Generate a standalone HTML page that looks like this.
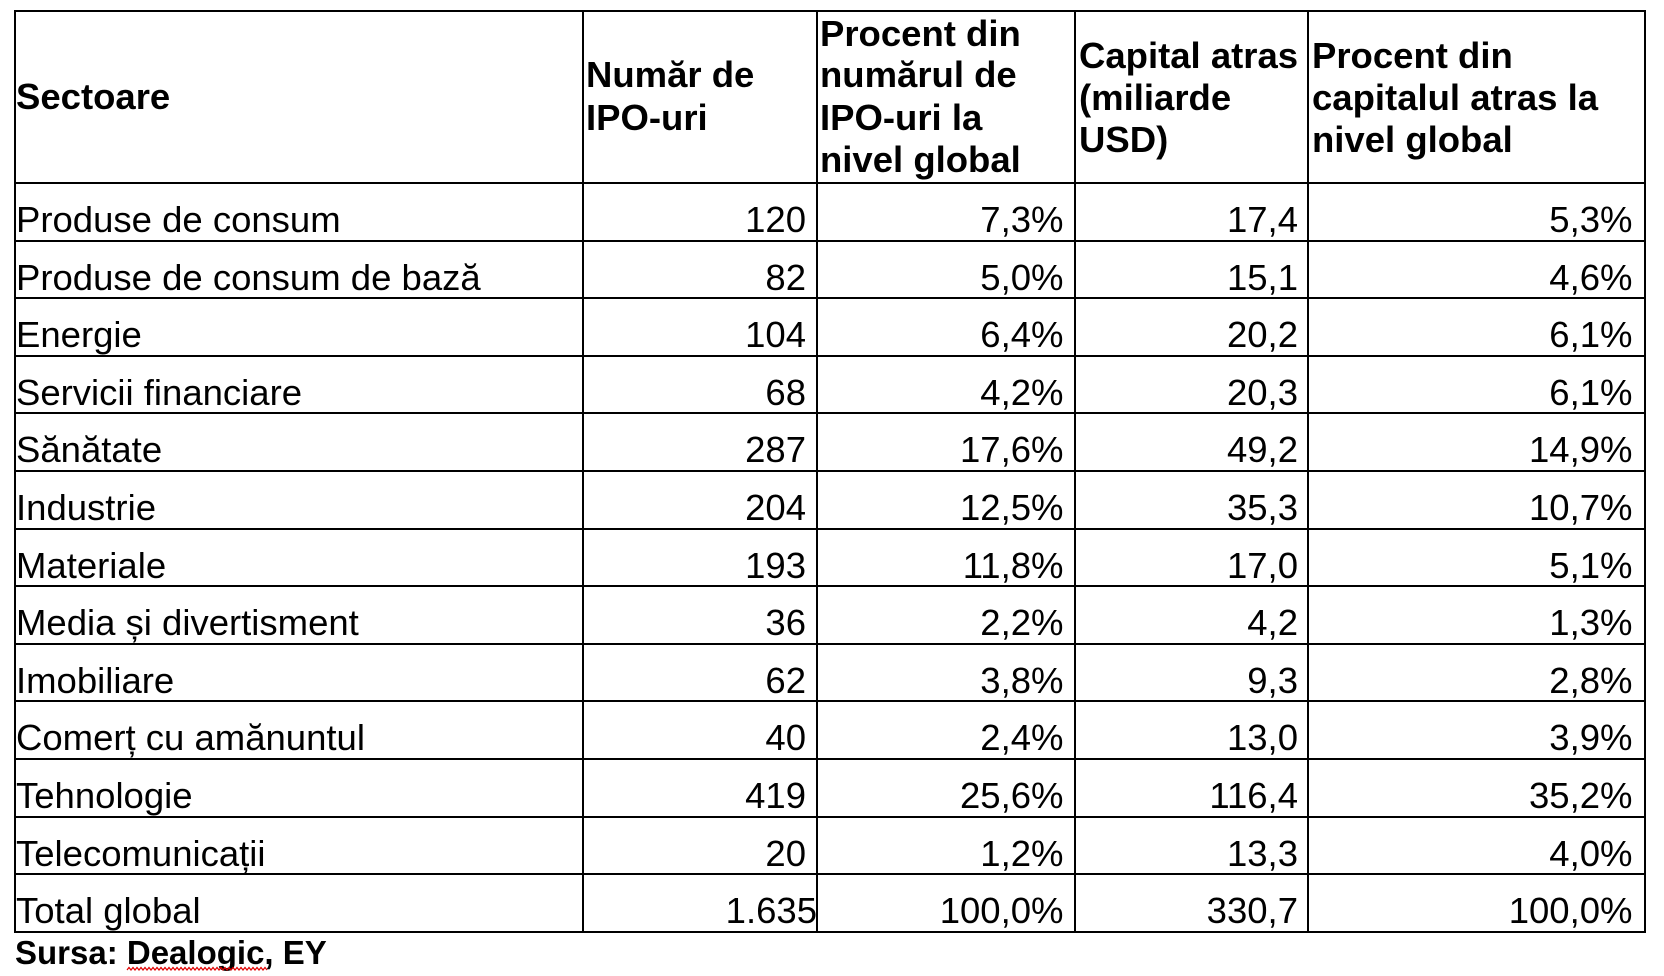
<!DOCTYPE html>
<html>
<head>
<meta charset="utf-8">
<style>
  html,body{margin:0;padding:0;background:#fff;}
  body{width:1664px;height:976px;position:relative;overflow:hidden;
       font-family:"Liberation Sans",Arial,sans-serif;color:#000;}
  .h{position:absolute;left:14px;width:1632px;height:2px;background:#000;}
  .v{position:absolute;top:10px;height:923px;width:2px;background:#000;}
  .t{position:absolute;font-size:36.5px;line-height:40px;height:40px;white-space:nowrap;}
  .b{font-weight:bold;}
  .l{left:16px;}
  .c2{right:858px;text-align:right;}
  .c3{right:600.5px;text-align:right;}
  .c4{right:366px;text-align:right;}
  .c5{right:31.5px;text-align:right;}
</style>
</head>
<body>
<!-- horizontal lines -->
<div class="h" style="top:10px"></div>
<div class="h" style="top:182px"></div>
<div class="h" style="top:240px"></div>
<div class="h" style="top:297px"></div>
<div class="h" style="top:355px"></div>
<div class="h" style="top:412px"></div>
<div class="h" style="top:470px"></div>
<div class="h" style="top:528px"></div>
<div class="h" style="top:585px"></div>
<div class="h" style="top:643px"></div>
<div class="h" style="top:700px"></div>
<div class="h" style="top:758px"></div>
<div class="h" style="top:816px"></div>
<div class="h" style="top:873px"></div>
<div class="h" style="top:931px"></div>
<!-- vertical lines -->
<div class="v" style="left:14px"></div>
<div class="v" style="left:582px"></div>
<div class="v" style="left:816px"></div>
<div class="v" style="left:1074px"></div>
<div class="v" style="left:1307px"></div>
<div class="v" style="left:1644px"></div>

<!-- header -->
<div class="t b" style="left:16px;top:77.4px">Sectoare</div>
<div class="t b" style="left:586px;top:55.4px">Număr de</div>
<div class="t b" style="left:586px;top:97.5px">IPO-uri</div>
<div class="t b" style="left:820px;top:14.2px">Procent din</div>
<div class="t b" style="left:820px;top:55.4px">numărul de</div>
<div class="t b" style="left:820px;top:97.5px">IPO-uri la</div>
<div class="t b" style="left:820px;top:139.9px">nivel global</div>
<div class="t b" style="left:1079px;top:35.9px">Capital atras</div>
<div class="t b" style="left:1079px;top:77.9px">(miliarde</div>
<div class="t b" style="left:1079px;top:119.9px">USD)</div>
<div class="t b" style="left:1312px;top:35.9px">Procent din</div>
<div class="t b" style="left:1312px;top:77.9px">capitalul atras la</div>
<div class="t b" style="left:1312px;top:119.9px">nivel global</div>

<!-- rows -->
<div class="t l" style="top:199.6px">Produse de consum</div>
<div class="t c2" style="top:199.6px">120</div>
<div class="t c3" style="top:199.6px">7,3%</div>
<div class="t c4" style="top:199.6px">17,4</div>
<div class="t c5" style="top:199.6px">5,3%</div>

<div class="t l" style="top:257.6px">Produse de consum de bază</div>
<div class="t c2" style="top:257.6px">82</div>
<div class="t c3" style="top:257.6px">5,0%</div>
<div class="t c4" style="top:257.6px">15,1</div>
<div class="t c5" style="top:257.6px">4,6%</div>

<div class="t l" style="top:314.6px">Energie</div>
<div class="t c2" style="top:314.6px">104</div>
<div class="t c3" style="top:314.6px">6,4%</div>
<div class="t c4" style="top:314.6px">20,2</div>
<div class="t c5" style="top:314.6px">6,1%</div>

<div class="t l" style="top:372.6px">Servicii financiare</div>
<div class="t c2" style="top:372.6px">68</div>
<div class="t c3" style="top:372.6px">4,2%</div>
<div class="t c4" style="top:372.6px">20,3</div>
<div class="t c5" style="top:372.6px">6,1%</div>

<div class="t l" style="top:429.6px">Sănătate</div>
<div class="t c2" style="top:429.6px">287</div>
<div class="t c3" style="top:429.6px">17,6%</div>
<div class="t c4" style="top:429.6px">49,2</div>
<div class="t c5" style="top:429.6px">14,9%</div>

<div class="t l" style="top:487.6px">Industrie</div>
<div class="t c2" style="top:487.6px">204</div>
<div class="t c3" style="top:487.6px">12,5%</div>
<div class="t c4" style="top:487.6px">35,3</div>
<div class="t c5" style="top:487.6px">10,7%</div>

<div class="t l" style="top:545.6px">Materiale</div>
<div class="t c2" style="top:545.6px">193</div>
<div class="t c3" style="top:545.6px">11,8%</div>
<div class="t c4" style="top:545.6px">17,0</div>
<div class="t c5" style="top:545.6px">5,1%</div>

<div class="t l" style="top:602.6px">Media și divertisment</div>
<div class="t c2" style="top:602.6px">36</div>
<div class="t c3" style="top:602.6px">2,2%</div>
<div class="t c4" style="top:602.6px">4,2</div>
<div class="t c5" style="top:602.6px">1,3%</div>

<div class="t l" style="top:660.6px">Imobiliare</div>
<div class="t c2" style="top:660.6px">62</div>
<div class="t c3" style="top:660.6px">3,8%</div>
<div class="t c4" style="top:660.6px">9,3</div>
<div class="t c5" style="top:660.6px">2,8%</div>

<div class="t l" style="top:717.6px">Comerț cu amănuntul</div>
<div class="t c2" style="top:717.6px">40</div>
<div class="t c3" style="top:717.6px">2,4%</div>
<div class="t c4" style="top:717.6px">13,0</div>
<div class="t c5" style="top:717.6px">3,9%</div>

<div class="t l" style="top:775.6px">Tehnologie</div>
<div class="t c2" style="top:775.6px">419</div>
<div class="t c3" style="top:775.6px">25,6%</div>
<div class="t c4" style="top:775.6px">116,4</div>
<div class="t c5" style="top:775.6px">35,2%</div>

<div class="t l" style="top:833.6px">Telecomunicații</div>
<div class="t c2" style="top:833.6px">20</div>
<div class="t c3" style="top:833.6px">1,2%</div>
<div class="t c4" style="top:833.6px">13,3</div>
<div class="t c5" style="top:833.6px">4,0%</div>

<div class="t l" style="top:890.6px">Total global</div>
<div class="t" style="top:890.6px;right:847px;text-align:right">1.635</div>
<div class="t c3" style="top:890.6px">100,0%</div>
<div class="t c4" style="top:890.6px">330,7</div>
<div class="t c5" style="top:890.6px">100,0%</div>

<!-- source -->
<div style="position:absolute;left:15px;top:934.5px;font-size:33px;line-height:36px;font-weight:bold;white-space:nowrap;">Sursa: Dealogic, EY</div>
<svg style="position:absolute;left:0;top:0" width="1664" height="976">
  <polyline fill="none" stroke="#e00000" stroke-width="1.2"
    points="127,970 129,967.5 131,970 133,967.5 135,970 137,967.5 139,970 141,967.5 143,970 145,967.5 147,970 149,967.5 151,970 153,967.5 155,970 157,967.5 159,970 161,967.5 163,970 165,967.5 167,970 169,967.5 171,970 173,967.5 175,970 177,967.5 179,970 181,967.5 183,970 185,967.5 187,970 189,967.5 191,970 193,967.5 195,970 197,967.5 199,970 201,967.5 203,970 205,967.5 207,970 209,967.5 211,970 213,967.5 215,970 217,967.5 219,970 221,967.5 223,970 225,967.5 227,970 229,967.5 231,970 233,967.5 235,970 237,967.5 239,970 241,967.5 243,970 245,967.5 247,970 249,967.5 251,970 253,967.5 255,970 257,967.5 259,970 261,967.5 263,970 265,967.5 267,970"/>
</svg>
</body>
</html>
